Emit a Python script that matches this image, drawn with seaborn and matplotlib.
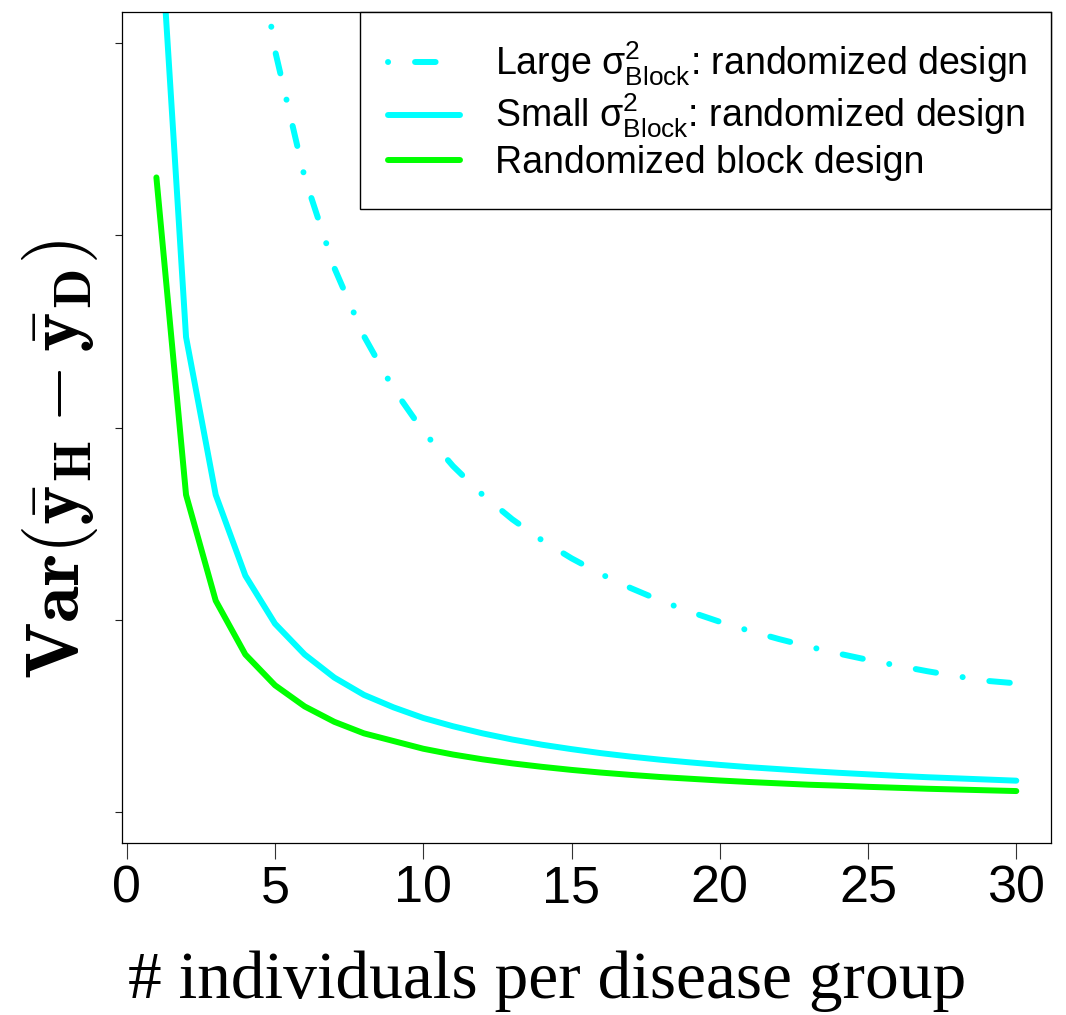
import matplotlib
matplotlib.use("Agg")
import matplotlib.pyplot as plt
from matplotlib.lines import Line2D
import pandas as pd
import seaborn as sns

# Group size (individuals per disease group)
n_per_group = list(range(1, 31))

# Variance of the difference in group means for each design
var_large_block_random = [19.8, 9.9, 6.6, 4.95, 3.96, 3.30, 2.83, 2.475, 2.20, 1.98,
                          1.80, 1.65, 1.523, 1.414, 1.32, 1.2375, 1.165, 1.10, 1.042, 0.99,
                          0.943, 0.90, 0.861, 0.825, 0.792, 0.762, 0.733, 0.707, 0.683, 0.67]
var_small_block_random = [4.93, 2.47, 1.65, 1.23, 0.98, 0.82, 0.70, 0.61, 0.545, 0.49,
                          0.447, 0.41, 0.378, 0.351, 0.328, 0.307, 0.289, 0.273, 0.259, 0.246,
                          0.234, 0.224, 0.214, 0.205, 0.197, 0.189, 0.182, 0.176, 0.17, 0.164]
var_block_design = [3.30, 1.65, 1.10, 0.82, 0.66, 0.55, 0.47, 0.41, 0.37, 0.33,
                    0.30, 0.275, 0.254, 0.236, 0.22, 0.206, 0.194, 0.183, 0.174, 0.165,
                    0.157, 0.15, 0.143, 0.138, 0.132, 0.127, 0.122, 0.118, 0.114, 0.11]

series_labels = [
    r"Large $\mathrm{\sigma}^{2}_{\mathrm{Block}}$: randomized design",
    r"Small $\mathrm{\sigma}^{2}_{\mathrm{Block}}$: randomized design",
    "Randomized block design",
]
x_ticks = [0, 5, 10, 15, 20, 25, 30]
y_ticks = [0, 1, 2, 3, 4]

CYAN = "#00FFFF"
GREEN = "#00FF00"
LW = 4.3
DOTDASH = (0.07, 19.4, 14.8, 19.4)   # dot, gap, dash, gap (points)

sns.set_theme(style="white")
plt.rcParams.update({
    "font.family": ["Liberation Sans", "DejaVu Sans"],
    "mathtext.fontset": "custom",
    "mathtext.rm": "Liberation Sans",
    "mathtext.it": "Liberation Sans:italic",
    "mathtext.bf": "Liberation Sans:bold",
    "lines.scale_dashes": False,
})

fig = plt.figure(figsize=(10.66, 10.15), dpi=100)
ax = fig.add_axes([122 / 1066, 1 - 843 / 1015, (1050.7 - 122) / 1066, 831 / 1015])

df_large = pd.DataFrame({"n": n_per_group, "v": var_large_block_random})
df_small = pd.DataFrame({"n": n_per_group, "v": var_small_block_random})
df_block = pd.DataFrame({"n": n_per_group, "v": var_block_design})

sns.lineplot(data=df_large, x="n", y="v", color=CYAN, linewidth=LW, ax=ax, estimator=None)
sns.lineplot(data=df_small, x="n", y="v", color=CYAN, linewidth=LW, ax=ax, estimator=None)
sns.lineplot(data=df_block, x="n", y="v", color=GREEN, linewidth=LW, ax=ax, estimator=None)

lines = ax.get_lines()
for ln in lines:
    ln.set_solid_capstyle("round")
    ln.set_dash_capstyle("round")
    ln.set_solid_joinstyle("round")
lines[0].set_linestyle((33.5, DOTDASH))

ax.set_xlim(-0.16, 31.16)
ax.set_ylim(-0.16, 4.16)
ax.set_xticks(x_ticks)
ax.set_xticklabels([str(t) for t in x_ticks])
ax.set_yticks(y_ticks)
ax.set_yticklabels([])

ax.tick_params(axis="x", bottom=True, direction="out", length=11.5, width=0.8,
               color="#333333", pad=4, labelsize=37.5, labelcolor="black")
ax.tick_params(axis="y", left=True, direction="out", length=5, width=0.8,
               color="#222222")
for sp in ax.spines.values():
    sp.set_visible(True)
    sp.set_color("black")
    sp.set_linewidth(0.9)

ax.set_xlabel("# individuals per disease group", fontfamily="Liberation Serif",
              fontsize=48.5, color="black")
ax.xaxis.set_label_coords(0.4576, -0.1865)
ax.xaxis.label.set_va("baseline")

ax.set_ylabel(r"$\mathbf{Var}(\bar{\mathbf{y}}_{\mathbf{H}}-\bar{\mathbf{y}}_{\mathbf{D}})$",
              fontsize=54, color="black", math_fontfamily="cm")
ax.yaxis.set_label_coords(-0.0232, 0.462)

handles = [
    Line2D([], [], color=CYAN, lw=LW, linestyle=(0, DOTDASH),
           dash_capstyle="round", solid_capstyle="round"),
    Line2D([], [], color=CYAN, lw=LW, solid_capstyle="round"),
    Line2D([], [], color=GREEN, lw=LW, solid_capstyle="round"),
]
legend_x0 = (360 - 122) / (1050.7 - 122)
leg = ax.legend(handles, series_labels, loc="upper left",
                bbox_to_anchor=(legend_x0, 0.0, 1.0 - legend_x0, 1.0), mode="expand",
                borderaxespad=0, fontsize=27, frameon=True, fancybox=False,
                edgecolor="black", facecolor="white", framealpha=1,
                handlelength=1.92, handletextpad=0.95, borderpad=0.74,
                labelspacing=0.12)
leg.get_frame().set_linewidth(1.0)
for t in leg.get_texts():
    t.set_color("black")

fig.savefig("out.png", dpi=100)
